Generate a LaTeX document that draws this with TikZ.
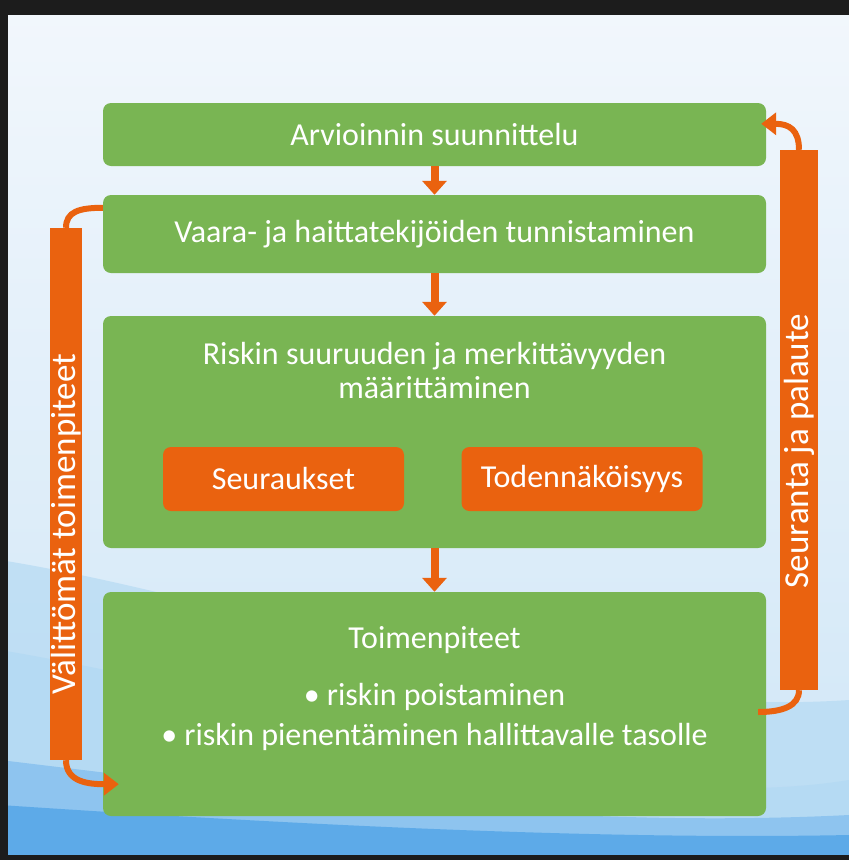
\documentclass[tikz,border=0pt]{standalone}
\usepackage{fontspec}
\setmainfont{Carlito}
\usetikzlibrary{arrows.meta,positioning,calc}
\definecolor{stagegreen}{HTML}{79B553}
\definecolor{riskorange}{HTML}{EA620F}
\definecolor{skytop}{HTML}{F2F7FC}
\definecolor{skylow}{HTML}{CFE6F7}
\definecolor{wavelight}{HTML}{B5DAF3}
\definecolor{wavedeep}{HTML}{5DAAE8}
\definecolor{framedark}{HTML}{1C1C1C}
\tikzset{
  stage/.style={fill=stagegreen,rounded corners=8pt,minimum width=663pt,inner sep=0pt,
    text=white,font=\fontsize{32}{36}\selectfont},
  factor/.style={fill=riskorange,rounded corners=8pt,minimum width=241pt,minimum height=64pt,
    text=white,font=\fontsize{32}{36}\selectfont},
  sidebar/.style={fill=riskorange,rotate=90,inner sep=0pt,text=white,font=\fontsize{35}{38}\selectfont},
  stagetext/.style={text=white,font=\fontsize{32}{36}\selectfont,align=center},
  flowarrow/.style={draw=riskorange,line width=8pt,-{Triangle[length=14pt,width=24pt]}},
  loopline/.style={draw=riskorange,line width=6pt},
  looparrow/.style={loopline,-{Triangle[length=15pt,width=22pt]}},
}

\begin{document}
\begin{tikzpicture}[x=1pt,y=-1pt]

% background
\useasboundingbox (0,0) rectangle (849,860);
\shade[top color=skytop,bottom color=skylow] (0,0) rectangle (849,860);
\fill[wavelight,opacity=0.7] (0,560) .. controls (250,600) and (550,720) .. (849,700)
  -- (849,860) -- (0,860) -- cycle;
\fill[wavelight] (0,650) .. controls (300,700) and (600,820) .. (849,780)
  -- (849,860) -- (0,860) -- cycle;
\fill[wavedeep!70] (0,760) .. controls (250,790) and (550,830) .. (849,815)
  -- (849,860) -- (0,860) -- cycle;
\fill[wavedeep] (0,805) .. controls (300,825) and (600,840) .. (849,835)
  -- (849,860) -- (0,860) -- cycle;
\fill[framedark] (0,0) rectangle (849,15);
\fill[framedark] (0,0) rectangle (8,860);
\fill[framedark] (0,855) rectangle (849,860);

% stages
\node[stage,minimum height=63pt] (plan) at (434.5,134.5) {Arvioinnin suunnittelu};
\node[stage,minimum height=78pt] (identify) at (434.5,234) {Vaara- ja haittatekijöiden tunnistaminen};
\node[stage,minimum height=232pt] (assess) at (434.5,432) {};
\node[stage,minimum height=224pt] (act) at (434.5,704) {};

\node[stagetext] (assesstitle) at (434.5,371) {Riskin suuruuden ja merkittävyyden\\[-2pt]määrittäminen};
\node[factor] (conseq) at (283.5,479) {Seuraukset};
\node[factor] (likely) at (582,479) {Todennäköisyys};

\node[stagetext] (acttitle) at (434.5,640) {Toimenpiteet};
\node[stagetext] (actlist) at (434.5,717) {• riskin poistaminen\\[4pt]• riskin pienentäminen hallittavalle tasolle};

% side bars (text sits a little below the middle)
\node[sidebar,minimum width=532pt,minimum height=32pt] (quick) at (66,494) {Välittömät toimenpiteet\kern60pt};
\node[sidebar,minimum width=540pt,minimum height=38pt] (follow) at (799,420) {Seuranta ja palaute\kern62pt};

% flow
\draw[flowarrow] (plan) -- (identify);
\draw[flowarrow] (identify) -- (assess);
\draw[flowarrow] (assess) -- (act);

\coordinate (quickin) at ($(identify.north west)+(0,13)$);
\coordinate (quickout) at ($(act.south west)+(16,-32)$);
\coordinate (followin) at ($(act.east)+(-8,8)$);
\coordinate (followout) at ($(plan.north east)+(-5,21)$);

\draw[loopline] (quick.east) .. controls ($(quick.east)+(0,-16)$) and ($(quickin)+(-24,0)$) .. (quickin);
\draw[looparrow] (quick.west) .. controls ($(quick.west)+(0,22)$) and ($(quickout)+(-30,0)$) .. (quickout);
\draw[loopline] (follow.west) .. controls ($(follow.west)+(0,16)$) and ($(followin)+(24,0)$) .. (followin);
\draw[looparrow] (follow.east) .. controls ($(follow.east)+(0,-20)$) and ($(followout)+(28,0)$) .. (followout);

\end{tikzpicture}
\end{document}
